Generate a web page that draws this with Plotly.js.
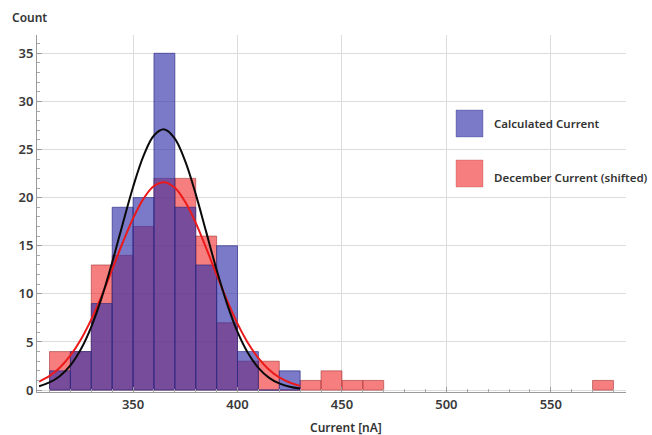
<!DOCTYPE html>
<html>
<head>
<meta charset="utf-8">
<script src="https://cdn.plot.ly/plotly-3.0.1.min.js"></script>
<style>html,body{margin:0;padding:0;background:#fff;}#chart{width:652px;height:435px;}</style>
</head>
<body>
<div id="chart"></div>
<script>
// Histogram bins (left edges, width 10 nA)
const calcBinStart = [310, 320, 330, 340, 350, 360, 370, 380, 390, 400, 410, 420];
const calcCounts   = [2, 4, 9, 19, 20, 35, 19, 13, 15, 4, 0, 2];

const decBinStart = [310, 320, 330, 340, 350, 360, 370, 380, 390, 400, 410, 420, 430, 440, 450, 460, 570];
const decCounts   = [4, 4, 13, 14, 17, 22, 22, 16, 7, 3, 3, 0, 1, 2, 1, 1, 1];

// Fitted curves
const curveX = [305, 310, 315, 320, 325, 330, 335, 340, 345, 350, 355, 360, 365, 370, 375, 380, 385, 390, 395, 400, 405, 410, 415, 420, 425, 430];
const calcFit = [0.40, 0.79, 1.47, 2.57, 4.24, 6.58, 9.63, 13.27, 17.24, 21.11, 24.34, 26.46, 27.09, 26.14, 23.77, 20.36, 16.44, 12.50, 8.96, 6.05, 3.85, 2.31, 1.30, 0.69, 0.35, 0.16];
const decFit  = [0.88, 1.47, 2.35, 3.60, 5.26, 7.35, 9.82, 12.54, 15.31, 17.85, 19.90, 21.21, 21.60, 21.02, 19.55, 17.38, 14.76, 11.99, 9.31, 6.90, 4.89, 3.32, 2.15, 1.33, 0.79, 0.44];

const seriesNames = ["Calculated Current", "December Current (shifted)"];
const xTicks = [350, 400, 450, 500, 550];
const yTicks = [0, 5, 10, 15, 20, 25, 30, 35];

const BLUE = "rgba(50,50,170,0.65)";
const RED  = "rgba(240,20,20,0.55)";

const traces = [
  {
    type: "bar", name: seriesNames[1], x: decBinStart, y: decCounts,
    offset: 0, width: 10,
    marker: {color: RED, line: {color: "rgba(170,60,60,0.8)", width: 0.8}},
    showlegend: false, hoverinfo: "x+y"
  },
  {
    type: "bar", name: seriesNames[0], x: calcBinStart, y: calcCounts,
    offset: 0, width: 10,
    marker: {color: BLUE, line: {color: "rgba(40,40,130,0.8)", width: 0.8}},
    showlegend: false, hoverinfo: "x+y"
  },
  {
    type: "scatter", mode: "lines", x: curveX, y: decFit,
    line: {color: "rgb(235,25,25)", width: 2, shape: "spline"},
    showlegend: false, name: seriesNames[1] + " fit"
  },
  {
    type: "scatter", mode: "lines", x: curveX, y: calcFit,
    line: {color: "rgb(10,10,10)", width: 2, shape: "spline"},
    showlegend: false, name: seriesNames[0] + " fit"
  }
];

const tickFont = {family: "Noto Sans, Open Sans, sans-serif", size: 13, color: "#3a3a3a", weight: 600};
const labFont = {family: "Noto Sans, Open Sans, sans-serif", size: 12, color: "#333", weight: 600};
const legFont = {family: "Noto Sans, Open Sans, sans-serif", size: 11.5, color: "#333", weight: 600};

const layout = {
  width: 652, height: 435,
  margin: {l: 37, r: 26, t: 35, b: 43, pad: 0},
  paper_bgcolor: "#fff", plot_bgcolor: "#fff",
  barmode: "overlay", bargap: 0,
  showlegend: false,
  xaxis: {
    range: [304, 586], tickvals: xTicks, ticktext: xTicks.map(String),
    showgrid: true, gridcolor: "#dcdcdc", gridwidth: 1,
    showline: true, linecolor: "#9a9a9a", linewidth: 1,
    ticks: "inside", ticklen: 5, tickcolor: "#9a9a9a",
    minor: {dtick: 10, tick0: 0, ticks: "inside", ticklen: 3, tickcolor: "#aaa", showgrid: false},
    zeroline: false, tickfont: tickFont, fixedrange: true
  },
  yaxis: {
    range: [-0.2, 36.9], tickvals: yTicks, ticktext: yTicks.map(String),
    showgrid: true, gridcolor: "#dcdcdc", gridwidth: 1,
    showline: true, linecolor: "#9a9a9a", linewidth: 1,
    ticks: "inside", ticklen: 5, tickcolor: "#9a9a9a",
    minor: {dtick: 1, tick0: 0, ticks: "inside", ticklen: 3, tickcolor: "#aaa", showgrid: false},
    zeroline: false, tickfont: tickFont, fixedrange: true
  },
  shapes: [
    {type: "rect", xref: "paper", yref: "paper", x0: 0.7114, x1: 0.7572, y0: 0.7143, y1: 0.7899,
     fillcolor: BLUE, line: {color: "rgba(40,40,130,0.5)", width: 0.6}},
    {type: "rect", xref: "paper", yref: "paper", x0: 0.7114, x1: 0.7572, y0: 0.5742, y1: 0.6499,
     fillcolor: RED, line: {color: "rgba(170,60,60,0.5)", width: 0.6}}
  ],
  annotations: [
    {xref: "paper", yref: "paper", x: 0.7725, y: 0.7535, xanchor: "left", yanchor: "middle",
     text: seriesNames[0], showarrow: false, font: legFont},
    {xref: "paper", yref: "paper", x: 0.7725, y: 0.6022, xanchor: "left", yanchor: "middle",
     text: seriesNames[1], showarrow: false, font: legFont},
    {xref: "paper", yref: "paper", x: -0.0458, y: 1.050, xanchor: "left", yanchor: "middle",
     text: "Count", showarrow: false, font: labFont},
    {xref: "paper", yref: "paper", x: 0.460, y: -0.1008, xanchor: "left", yanchor: "middle",
     text: "Current [nA]", showarrow: false, font: labFont}
  ]
};

Plotly.newPlot("chart", traces, layout, {displayModeBar: false, staticPlot: true});
</script>
</body>
</html>
